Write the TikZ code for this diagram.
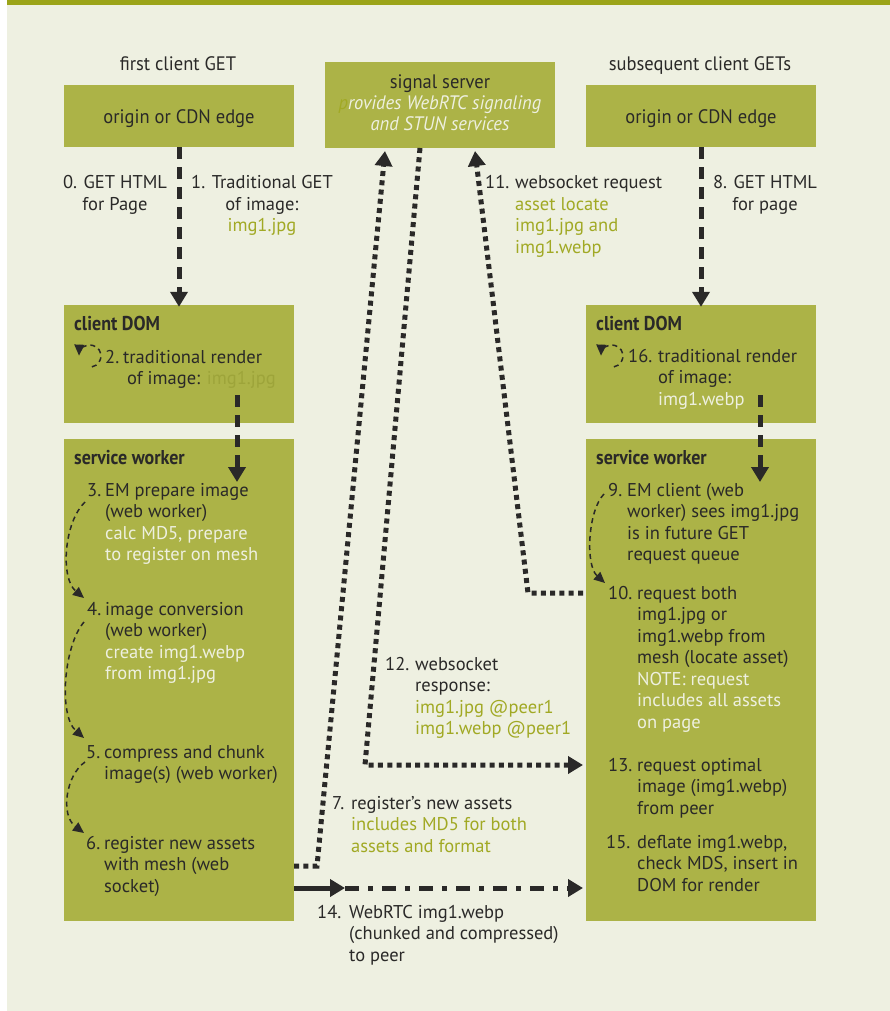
\documentclass[tikz,border=0pt]{standalone}
\usepackage{fontspec}
\setmainfont{PT Sans}
\newfontfamily\condf[FakeStretch=0.95]{PT Sans}
\newfontfamily\hdrf[FakeStretch=0.9]{PT Sans}
\usetikzlibrary{arrows.meta}
\definecolor{bgc}{HTML}{EEF0E1}
\definecolor{barc}{HTML}{9BA418}
\definecolor{boxc}{HTML}{ACB347}
\definecolor{dk}{HTML}{2A2928}
\definecolor{crm}{HTML}{EEF0E0}
\definecolor{olv}{HTML}{A1A924}
\definecolor{olvd}{HTML}{9DA43A}
\newcommand\numlab[3]{\makebox[#2][l]{#1}\begin{tabular}[t]{@{}l@{}}#3\end{tabular}}
\newcommand\ctrlab[1]{\begin{tabular}[t]{@{}c@{}}#1\end{tabular}}
\begin{document}
\begin{tikzpicture}[x=1pt,y=-1pt,
  box/.style={fill=boxc, draw=none, inner sep=0, minimum width=230pt},
  lbl/.style={inner sep=0, anchor=base west, text=dk, font=\fontsize{18.5}{21.5}\selectfont},
  ctr/.style={inner sep=0, anchor=base, text=dk, font=\fontsize{18.5}{21.5}\selectfont},
  hdr/.style={inner sep=0, anchor=base west, text=dk, font=\fontsize{20}{22}\selectfont\hdrf\bfseries},
  ttl/.style={inner sep=0, anchor=base, text=dk, font=\fontsize{19.5}{21.5}\selectfont\condf},
  bigtip/.style={-{Triangle[length=15pt,width=17pt]}},
  bigdash/.style={draw=dk, line width=5pt, dash pattern=on 12pt off 8pt, bigtip},
  dotline/.style={draw=dk, line width=5pt, dash pattern=on 5pt off 4.3pt},
  dotarrow/.style={dotline, bigtip},
  dashdot/.style={draw=dk, line width=5pt, dash pattern=on 14pt off 9pt on 5pt off 9pt, bigtip},
  curvearrow/.style={draw=dk, line width=1.5pt, dash pattern=on 5pt off 4pt, -{Triangle[length=11pt,width=10pt]}},
]
\useasboundingbox (0,0) rectangle (890,1011);
\fill[white] (0,0) rectangle (890,1011);
\fill[bgc] (7,0) rectangle (890,1011);
\fill[barc] (7,0) rectangle (890,5);

% boxes
\node[box, minimum height=62pt] (orgL) at (179,116) {};
\node[box, minimum height=86pt] (sig) at (440,105) {};
\node[box, minimum height=62pt] (orgR) at (701,116) {};
\node[box, minimum height=118pt] (domL) at (179,364) {};
\node[box, minimum height=118pt] (domR) at (701,364) {};
\node[box, minimum height=482pt] (swL) at (179,680) {};
\node[box, minimum height=482pt] (swR) at (701,680) {};

% titles
\node[ttl] (tL) at (178,71) {first client GET};
\node[ttl] (tR) at (700,71) {subsequent client GETs};
\node[ttl] (oL) at (179,124) {origin or CDN edge};
\node[ttl] (oR) at (701,124) {origin or CDN edge};
\node[ttl] (sg) at (440,89) {\ctrlab{signal server\\[-0.5pt]
  \itshape\color{crm}\textcolor{olv}{p}rovides WebRTC signaling\\[-0.5pt]
  \itshape\color{crm}and STUN services}};

% headers
\node[hdr] (hdL) at (74,330) {client DOM};
\node[hdr] (hdR) at (596,330) {client DOM};
\node[hdr] (hsL) at (74,464) {service worker};
\node[hdr] (hsR) at (596,464) {service worker};

% labels outside
\node[ctr] (l0) at (115,189) {\ctrlab{0. GET HTML\\for Page}};
\node[ctr] (l1) at (262,189) {\ctrlab{1. Traditional GET\\of image:\\\textcolor{olv}{img1.jpg}}};
\node[lbl] (l11) at (485,189) {\numlab{11.}{30pt}{websocket request\\\textcolor{olv}{asset locate}\\\textcolor{olv}{img1.jpg and}\\\textcolor{olv}{img1.webp}}};
\node[ctr] (l8) at (765,189) {\ctrlab{8. GET HTML\\for page}};
\node[lbl] (l12) at (385,670) {\numlab{12.}{30pt}{websocket\\response:\\\textcolor{olv}{img1.jpg @peer1}\\\textcolor{olv}{img1.webp @peer1}}};
\node[lbl] (l7) at (332,809) {\numlab{7.}{19pt}{register’s new assets\\\textcolor{olv}{includes MD5 for both}\\\textcolor{olv}{assets and format}}};
\node[lbl] (l14) at (317,918) {\numlab{14.}{32pt}{WebRTC img1.webp\\(chunked and compressed)\\to peer}};

% left column labels
\node[lbl] (l2) at (105,363) {\numlab{2.}{18pt}{traditional render\\\hspace{4pt}of image: \textcolor{olvd}{img1.jpg}}};
\node[lbl] (l3) at (87,496) {\numlab{3.}{18pt}{EM prepare image\\(web worker)\\\textcolor{crm}{calc MD5, prepare}\\\textcolor{crm}{to register on mesh}}};
\node[lbl] (l4) at (87,615) {\numlab{4.}{18pt}{image conversion\\(web worker)\\\textcolor{crm}{create img1.webp}\\\textcolor{crm}{from img1.jpg}}};
\node[lbl] (l5) at (86,758) {\numlab{5.}{18pt}{compress and chunk\\image(s) (web worker)}};
\node[lbl] (l6) at (86,849) {\numlab{6.}{18pt}{register new assets\\with mesh (web\\socket)}};

% right column labels
\node[lbl] (l16) at (628,362) {\numlab{16.}{30pt}{traditional render\\of image:\\\textcolor{crm}{img1.webp}}};
\node[lbl] (l9) at (608,496) {\numlab{9.}{19pt}{EM client (web\\worker) sees img1.jpg\\is in future GET\\request queue}};
\node[lbl] (l10) at (608,599) {\numlab{10.}{29pt}{request both\\img1.jpg or\\img1.webp from\\mesh (locate asset)\\\textcolor{crm}{NOTE: request}\\\textcolor{crm}{includes all assets}\\\textcolor{crm}{on page}}};
\node[lbl] (l13) at (608,771) {\numlab{13.}{29pt}{request optimal\\image (img1.webp)\\from peer}};
\node[lbl] (l15) at (606,848) {\numlab{15.}{31pt}{deflate img1.webp,\\check MDS, insert in\\DOM for render}};

% connector coordinates
\coordinate (d2a) at (237,395);
\coordinate (d2b) at (237,482);
\coordinate (d9a) at (760,395);
\coordinate (d9b) at (760,482);
\coordinate (p7a) at (294,866);
\coordinate (p7b) at (317,866);
\coordinate (p7c) at (385,151);
\coordinate (p12a) at (420,148);
\coordinate (p12b) at (365,765);
\coordinate (p12c) at (583,765);
\coordinate (p11a) at (583,593);
\coordinate (p11b) at (528,593);
\coordinate (p11c) at (475,151);
\coordinate (p14a) at (294,888);
\coordinate (p14b) at (345,888);
\coordinate (p14c) at (583,888);
\coordinate (c3) at (85,502);
\coordinate (c4) at (84,598);
\coordinate (c4s) at (84,622);
\coordinate (c5) at (84,738);
\coordinate (c5s) at (85,762);
\coordinate (c6) at (84,833);
\coordinate (c9) at (604,494);
\coordinate (c10) at (605,583);

% big dashed arrows
\draw[bigdash] (orgL.south) -- ([yshift=-2pt]domL.north);
\draw[bigdash] (orgR.south) -- ([yshift=-2pt]domR.north);
\draw[bigdash] (d2a) -- (d2b);
\draw[bigdash] (d9a) -- (d9b);

% dotted
\draw[dotarrow] (p7a) -- (p7b) -- (p7c);
\draw[dotarrow] (p12a) -- (p12b) -- (p12c);
\draw[dotarrow] (p11a) -- (p11b) -- (p11c);

% 14
\draw[draw=dk, line width=5pt, bigtip] (p14a) -- (p14b);
\draw[dashdot] (p14b) -- (p14c);

% curved step arrows
\draw[curvearrow] (c3) .. controls (64,522) and (60,578) .. (c4);
\draw[curvearrow] (c4s) .. controls (64,645) and (58,715) .. (c5);
\draw[curvearrow] (c5s) .. controls (66,775) and (60,815) .. (c6);
\draw[curvearrow] (c9) .. controls (588,510) and (585,565) .. (c10);

% loop icons
\coordinate (loopL) at (90,356);
\coordinate (loopR) at (612,356);
\draw[curvearrow] (loopL) ++(80:11) arc[start angle=80, end angle=-178, radius=11];
\draw[curvearrow] (loopR) ++(80:11) arc[start angle=80, end angle=-178, radius=11];
\end{tikzpicture}
\end{document}
